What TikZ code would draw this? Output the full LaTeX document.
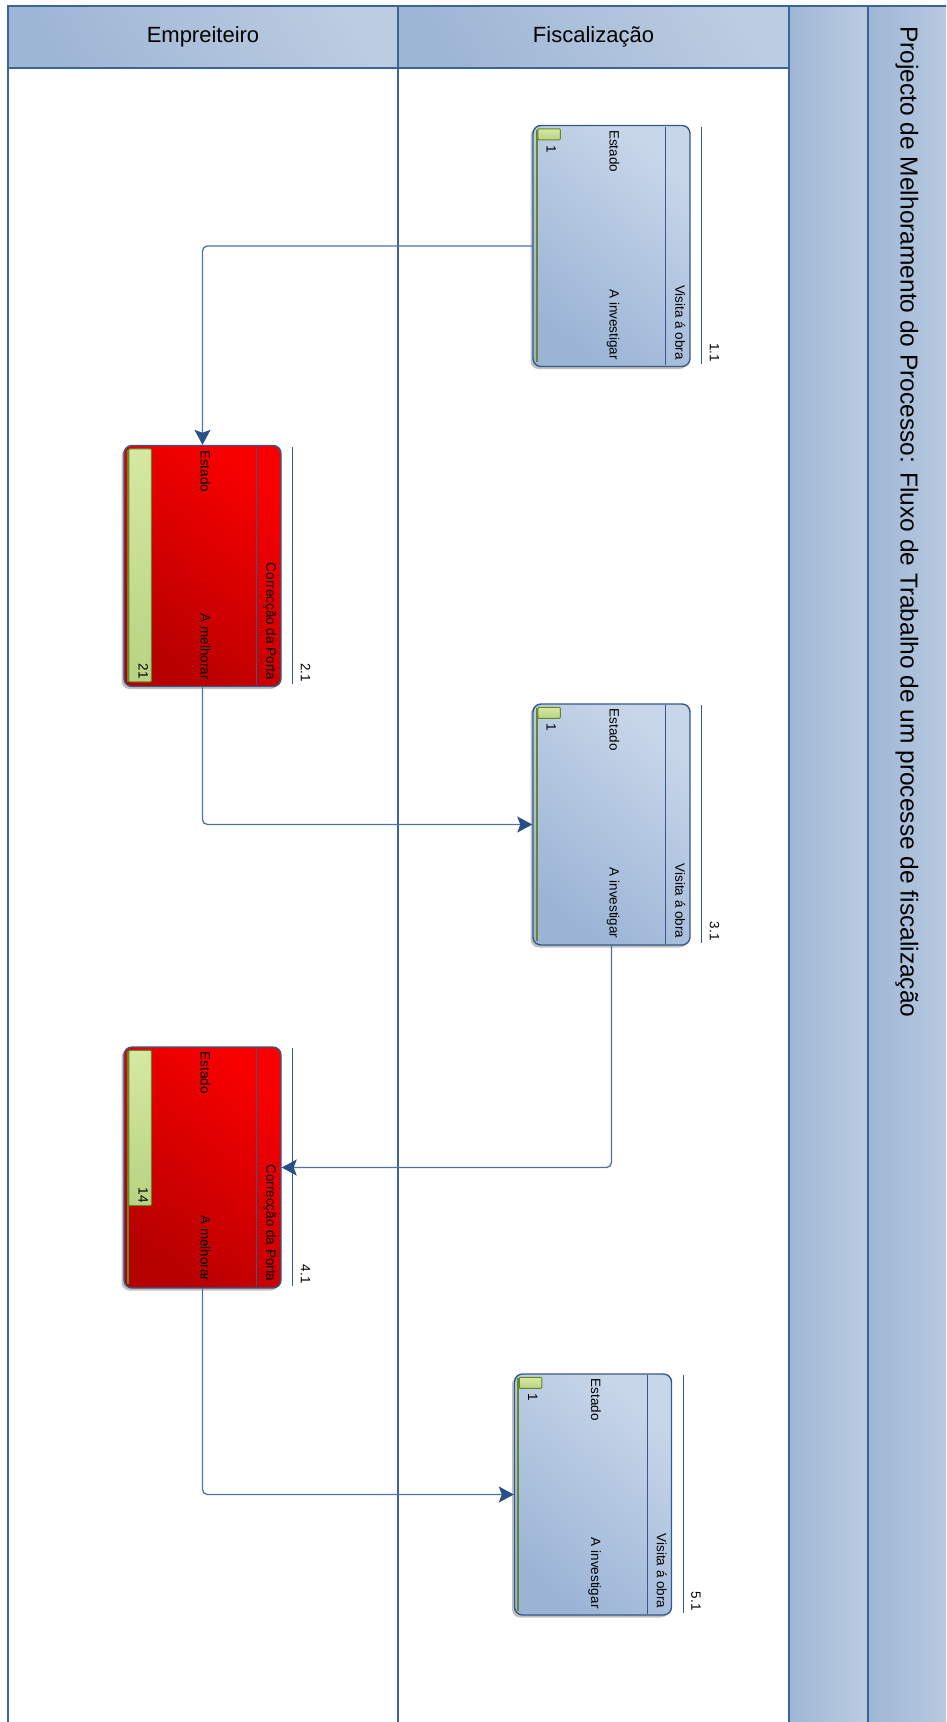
\documentclass[tikz,border=0pt]{standalone}
\usepackage{fontspec}
\setmainfont{Liberation Sans}
\usetikzlibrary{arrows.meta,calc,shadows}
\definecolor{moldura}{RGB}{60,100,150}
\definecolor{linhacaixa}{RGB}{55,88,138}
\definecolor{corligacao}{RGB}{78,114,166}
\definecolor{ponta}{RGB}{40,80,136}
\definecolor{azulescuro}{RGB}{155,180,214}
\definecolor{azulclaro}{RGB}{200,214,233}
\definecolor{colunaescura}{RGB}{158,182,213}
\definecolor{colunaclara}{RGB}{188,204,225}
\definecolor{vermelhoescuro}{RGB}{182,0,0}
\definecolor{vermelhoclaro}{RGB}{248,0,0}
\definecolor{oliva}{RGB}{100,135,40}
\definecolor{barraclara}{RGB}{214,232,162}
\definecolor{barraescura}{RGB}{184,210,130}
\newcommand{\setsize}[1]{\fontsize{#1}{#1}\selectfont}

\tikzset{
  cartao/.style={rectangle, rounded corners=8pt, draw=linhacaixa, line width=1.4pt,
    minimum width=157pt, minimum height=241pt,
    drop shadow={shadow xshift=-2.5pt, shadow yshift=-2.5pt, opacity=0.4, fill=black!60}},
  azul/.style={cartao, top color=azulclaro, bottom color=azulescuro, shading angle=-40},
  vermelho/.style={cartao, top color=vermelhoclaro, bottom color=vermelhoescuro, shading angle=-40},
  texto/.style={rotate=-90, inner sep=0pt, font=\setsize{13.5}, text height=0.75em, text depth=0.2em},
  barra/.style={draw=oliva, line width=1pt, rounded corners=1pt, top color=barraclara, bottom color=barraescura},
  cabecalho/.style={top color=colunaclara, bottom color=colunaescura, shading angle=-60},
  fluxo/.style={corligacao, line width=1.3pt, rounded corners=5pt,
    -{Stealth[length=15pt, width=16pt, inset=3pt, fill=ponta, color=ponta]}}
}

% #1 card, #2 title, #3 state, #4 progress, #5 number
\newcommand{\detalhes}[5]{
  \draw [linhacaixa, line width=1pt] ($(#1.north east)+(-25,2)$) -- ($(#1.south east)+(-25,-2)$);
  \node [texto, anchor=east] at ($(#1.south east)+(-12.5,-7)$) {#2};
  \node [texto, anchor=west] at ($(#1.north west)+(80,5)$) {Estado};
  \node [texto, anchor=east] at ($(#1.south west)+(80,-7)$) {#3};
  \draw [oliva, line width=2pt] ($(#1.north west)+(4.5,5)$) -- ($(#1.south west)+(4.5,-5)$);
  \draw [barra] ($(#1.north west)+(5.5,4)$) rectangle ($(#1.north west)+(28,4+11.1*#4)$);
  \ifnum#4>1
    \node [texto, anchor=east] at ($(#1.north west)+(18,4+11.1*#4-3)$) {#4};
  \else
    \node [texto, anchor=west] at ($(#1.north west)+(17,4+11.1*#4+5)$) {#4};
  \fi
  \draw [linhacaixa, line width=0.9pt] ($(#1.north east)+(11,2)$) -- ($(#1.south east)+(11,-3)$);
  \node [texto, anchor=east] at ($(#1.south east)+(22,-5)$) {#5};
}

\begin{document}
\begin{tikzpicture}[x=1pt, y=-1pt]
\useasboundingbox (0,0) rectangle (946,1722);
\clip (0,0) rectangle (946,1722);
\fill [white] (0,0) rectangle (946,1722);

% lanes and headers
\shade [cabecalho] (8,6) rectangle (398,68);
\shade [cabecalho] (398,6) rectangle (789,68);
\shade [left color=colunaescura, right color=colunaclara] (789,6) rectangle (868,1730);
\shade [left color=colunaescura, right color=colunaclara] (868,6) rectangle (960,1730);
\draw [moldura, line width=2pt] (8,1730) -- (8,6) -- (960,6);
\draw [moldura, line width=2pt] (8,68) -- (789,68);
\draw [moldura, line width=1.5pt] (398,6) -- (398,1730);
\draw [moldura, line width=1.5pt] (789,6) -- (789,1730);
\draw [moldura, line width=2.5pt] (868,6) -- (868,1730);
\node [font=\setsize{22}] (empreiteiro) at (203,37) {Empreiteiro};
\node [font=\setsize{22}] (fiscalizacao) at (593.5,37) {Fiscalização};
\node [rotate=-90, anchor=west, inner sep=0pt, font=\setsize{24.5}] (titulo) at (907,26)
  {Projecto de Melhoramento do Processo: Fluxo de Trabalho de um processe de fiscalização};

% cards
\node [azul] (obra1) at (611.5,246) {};
\node [vermelho] (porta2) at (202.5,566) {};
\node [azul] (obra3) at (611.5,824.5) {};
\node [vermelho] (porta4) at (202.5,1167.5) {};
\node [azul] (obra5) at (593,1494.5) {};
\detalhes{obra1}{Visita á obra}{A investigar}{1}{1.1}
\detalhes{porta2}{Correcção da Porta}{A melhorar}{21}{2.1}
\detalhes{obra3}{Visita á obra}{A investigar}{1}{3.1}
\detalhes{porta4}{Correcção da Porta}{A melhorar}{14}{4.1}
\detalhes{obra5}{Visita á obra}{A investigar}{1}{5.1}

% flow
\draw [fluxo] (obra1.west) -| (porta2.north);
\draw [fluxo] (porta2.south) |- (obra3.west);
\draw [fluxo] (obra3.south) |- (porta4.east);
\draw [fluxo] (porta4.south) |- (obra5.west);
\end{tikzpicture}
\end{document}
